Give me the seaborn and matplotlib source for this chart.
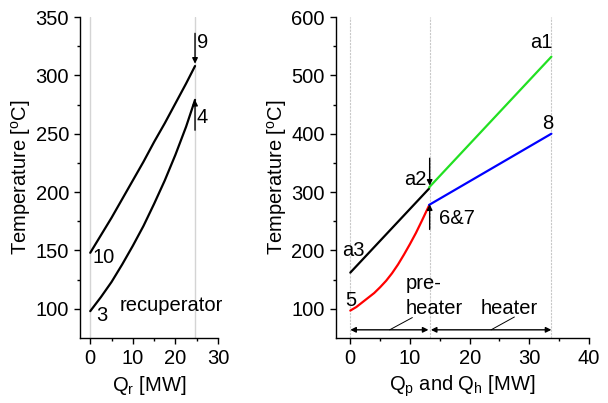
import matplotlib
matplotlib.use("Agg")
import matplotlib.pyplot as plt
import seaborn as sns

# recuperator (left panel)
qr = [0, 2.5, 5, 7.5, 10, 12.5, 15, 17.5, 20, 22.5, 24.6]
t_hot_rec = [148, 163, 178, 194, 210, 226, 243, 259, 276, 293, 308]    # 10 -> 9
t_cold_rec = [98, 110, 123, 138, 154, 171, 190, 210, 232, 256, 279]    # 3 -> 4

# pre-heater / heater (right panel)
q_pre = [0, 13.2]
t_air_pre = [162, 306]                                                  # a3 -> a2
q_pre_cold = [0, 1, 2, 3, 4, 5, 6, 7, 8, 9, 10, 11, 12, 13.2]
t_cold_pre = [97, 103, 111, 119, 127, 137, 148, 161, 176, 193, 211, 230, 251, 277]  # 5 -> 6&7
q_heat = [13.2, 33.7]
t_air_heat = [308, 532]                                                 # a2 -> a1
t_cold_heat = [278, 400]                                                # 6&7 -> 8

sns.set_style("ticks")
plt.rcParams['font.family'] = ['Liberation Sans', 'DejaVu Sans']
plt.rcParams['mathtext.fontset'] = 'custom'
plt.rcParams['mathtext.rm'] = 'Liberation Sans'
plt.rcParams['mathtext.it'] = 'Liberation Sans'
plt.rcParams['text.color'] = 'k'
plt.rcParams['axes.labelcolor'] = 'k'
plt.rcParams['xtick.color'] = 'k'
plt.rcParams['ytick.color'] = 'k'

FS = 14.5
fig = plt.figure(figsize=(6.08, 4.03), dpi=100)
ax1 = fig.add_axes([0.1316, 0.1613, 0.2270, 0.7965])
ax2 = fig.add_axes([0.5526, 0.1613, 0.4161, 0.7965])

arr = dict(arrowstyle="-|>", color="k", lw=1, mutation_scale=8, shrinkA=0, shrinkB=0)

# ---- left panel
for xv in [0, 24.6]:
    ax1.axvline(xv, color="#d4d4d4", lw=1, zorder=0)
sns.lineplot(x=qr, y=t_hot_rec, ax=ax1, color="k", lw=1.6, sort=False)
sns.lineplot(x=qr, y=t_cold_rec, ax=ax1, color="k", lw=1.6, sort=False)
ax1.annotate("", xy=(24.6, 310), xytext=(24.6, 336), arrowprops=arr)
ax1.annotate("", xy=(24.6, 279), xytext=(24.6, 253), arrowprops=arr)
ax1.text(25.0, 328, "9", fontsize=FS, va="center")
ax1.text(25.0, 264, "4", fontsize=FS, va="center")
ax1.text(0.6, 144, "10", fontsize=FS, va="center")
ax1.text(1.3, 94, "3", fontsize=FS, va="center")
ax1.text(6.8, 103, "recuperator", fontsize=FS, va="center")

ax1.set_xlim(-2.4, 30)
ax1.set_ylim(75, 350)
ax1.set_xticks([0, 10, 20, 30])
ax1.set_xticks([5, 15, 25], minor=True)
ax1.set_yticks([100, 150, 200, 250, 300, 350])
ax1.set_yticks([125, 175, 225, 275, 325], minor=True)
ax1.set_xlabel(r"Q$_\mathregular{r}$ [MW]", fontsize=FS)
ax1.set_ylabel(r"Temperature [$^\mathregular{o}$C]", fontsize=FS, labelpad=2)

# ---- right panel
for xv in [0, 13.3, 33.7]:
    ax2.axvline(xv, color="#c8c8c8", lw=0.8, ls=(0, (2, 1)), zorder=0)
sns.lineplot(x=q_pre, y=t_air_pre, ax=ax2, color="k", lw=1.6)
sns.lineplot(x=q_pre_cold, y=t_cold_pre, ax=ax2, color="#ff0000", lw=1.6)
sns.lineplot(x=q_heat, y=t_air_heat, ax=ax2, color="#22e022", lw=1.6)
sns.lineplot(x=q_heat, y=t_cold_heat, ax=ax2, color="#0000ff", lw=1.6)
ax2.annotate("", xy=(13.3, 311), xytext=(13.3, 358), arrowprops=arr)
ax2.annotate("", xy=(13.3, 279), xytext=(13.3, 236), arrowprops=arr)
ax2.text(9.0, 322, "a2", fontsize=FS, va="center")
ax2.text(14.8, 254, "6&7", fontsize=FS, va="center")
ax2.text(-1.4, 200, "a3", fontsize=FS, va="center")
ax2.text(-0.8, 114, "5", fontsize=FS, va="center")
ax2.text(30.2, 556, "a1", fontsize=FS, va="center")
ax2.text(32.2, 417, "8", fontsize=FS, va="center")
ax2.text(9.2, 143, "pre-", fontsize=FS, va="center")
ax2.text(9.2, 100, "heater", fontsize=FS, va="center")
ax2.text(21.8, 100, "heater", fontsize=FS, va="center")

dbl = dict(arrowstyle="<|-|>", color="k", lw=1, mutation_scale=8, shrinkA=0, shrinkB=0)
ax2.annotate("", xy=(0, 64), xytext=(13.1, 64), arrowprops=dbl)
ax2.annotate("", xy=(13.5, 64), xytext=(33.7, 64), arrowprops=dbl)
ax2.plot([6.6, 10.4], [64, 85], color="k", lw=0.7)
ax2.plot([23.6, 27.5], [64, 86], color="k", lw=0.7)

ax2.set_xlim(-2.4, 40)
ax2.set_ylim(50, 600)
ax2.set_xticks([0, 10, 20, 30, 40])
ax2.set_xticks([5, 15, 25, 35], minor=True)
ax2.set_yticks([100, 200, 300, 400, 500, 600])
ax2.set_yticks([150, 250, 350, 450, 550], minor=True)
ax2.set_xlabel(r"Q$_\mathregular{p}$ and Q$_\mathregular{h}$ [MW]", fontsize=FS)
ax2.set_ylabel(r"Temperature [$^\mathregular{o}$C]", fontsize=FS, labelpad=2)

for ax in (ax1, ax2):
    sns.despine(ax=ax)
    ax.tick_params(which="major", length=4.5, width=1, labelsize=FS, color="k")
    ax.tick_params(which="minor", length=2.5, width=1, color="k")
    for s in ("left", "bottom"):
        ax.spines[s].set_color("k")
        ax.spines[s].set_linewidth(1)

fig.savefig("out.png", dpi=100)
